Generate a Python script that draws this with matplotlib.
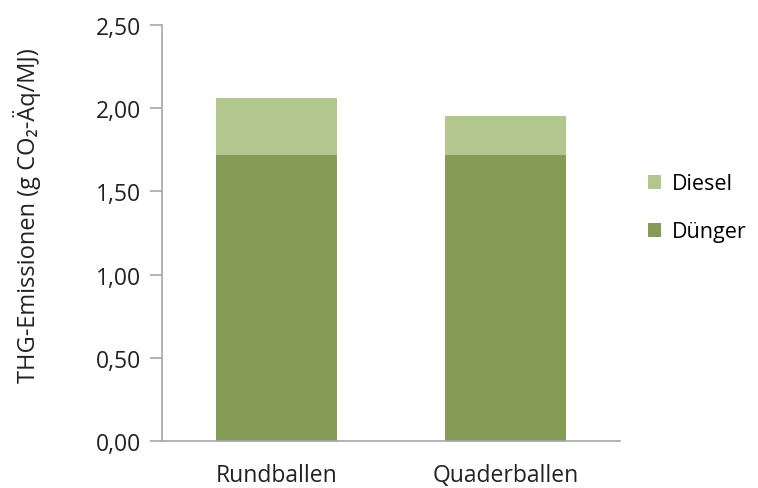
import matplotlib.pyplot as plt
from matplotlib.ticker import FuncFormatter

plt.rcParams['font.family'] = ['Open Sans', 'DejaVu Sans']

categories = ['Rundballen', 'Quaderballen']
duenger = [1.72, 1.72]
diesel = [0.34, 0.23]

c_duenger = '#849c55'
c_diesel = '#b1c78d'
grey = '#a6a6a6'

fig = plt.figure(figsize=(7.58, 4.89), dpi=100)
ax = fig.add_axes([0.2137, 0.0961, 0.6043, 0.851])

b1 = ax.bar(categories, duenger, width=0.525, color=c_duenger, label='Dünger')
b2 = ax.bar(categories, diesel, width=0.525, bottom=duenger, color=c_diesel, label='Diesel')

ax.set_xlim(-0.5, 1.5)
ax.set_ylim(0, 2.5)
ax.set_yticks([0, 0.5, 1.0, 1.5, 2.0, 2.5])
ax.yaxis.set_major_formatter(FuncFormatter(lambda v, p: f'{v:.2f}'.replace('.', ',')))

for s in ['top', 'right']:
    ax.spines[s].set_visible(False)
for s in ['left', 'bottom']:
    ax.spines[s].set_color(grey)
    ax.spines[s].set_linewidth(1.2)

ax.tick_params(axis='y', length=9, width=1.2, color=grey, labelsize=16.5, pad=6,
               labelcolor='#222222')
ax.tick_params(axis='x', length=0, labelsize=16.5, pad=16, labelcolor='#222222')

ax.set_ylabel('THG-Emissionen (g CO₂-Äq/MJ)', fontsize=17, color='#222222')
ax.yaxis.set_label_coords(-0.265, 0.545)

fig.legend([b2, b1], ['Diesel', 'Dünger'], loc='center left',
           bbox_to_anchor=(0.855, 0.573), frameon=False, fontsize=15.5,
           borderaxespad=0, borderpad=0,
           handlelength=0.6, handleheight=0.6, handletextpad=0.5, labelspacing=1.25)

fig.savefig('out.png', dpi=100)
